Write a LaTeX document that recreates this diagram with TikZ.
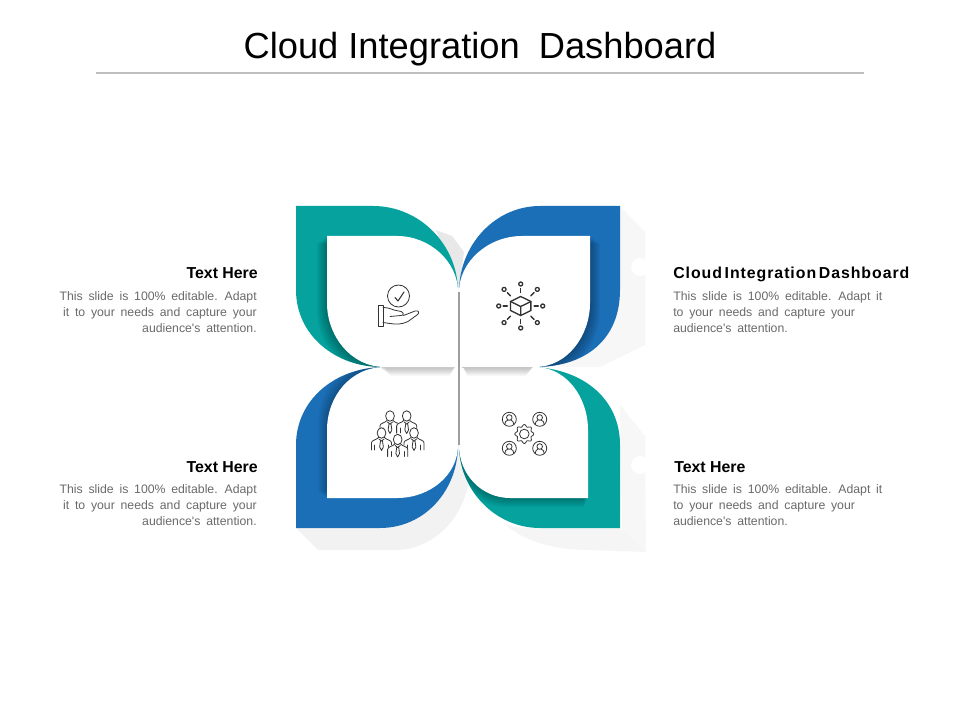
\documentclass[tikz,border=0pt]{standalone}
\usepackage{fontspec}
\setmainfont{Liberation Sans}
\newfontfamily\bodyfont[WordSpace=1.7]{Liberation Sans}
\newfontfamily\wideheadfont[LetterSpace=6,WordSpace=0.5]{Liberation Sans}
\definecolor{tealc}{HTML}{05A29E}
\definecolor{bluec}{HTML}{1B6FB7}
\definecolor{bodyc}{HTML}{6A6A6A}
\definecolor{iconc}{HTML}{333333}
\tikzset{
  titletext/.style={font=\fontsize{27.2pt}{32pt}\selectfont,text=black,inner sep=0pt},
  headtext/.style={font=\fontsize{11.9pt}{14pt}\selectfont\bfseries,text=black,inner sep=0pt},
  wideheadtext/.style={font=\fontsize{11.9pt}{14pt}\wideheadfont\bfseries,text=black,inner sep=0pt},
  bodyleft/.style={font=\fontsize{9.2pt}{12pt}\bodyfont,text=bodyc,inner sep=0pt,align=right,anchor=north east},
  bodyright/.style={font=\fontsize{9.2pt}{12pt}\bodyfont,text=bodyc,inner sep=0pt,align=left,anchor=north west},
  icon/.style={draw=iconc,line width=.6pt,line cap=round,line join=round},
  tlo/.style={insert path={(296,206) -- (373,206) .. controls (420,206) and (458,245) .. (458,292) -- (458,367) -- (382,367) .. controls (335,367) and (296,335) .. (296,290) -- cycle}},
  tlw/.style={insert path={(327,236) -- (397,236) .. controls (430,236) and (458,262) .. (458,292) -- (458,367) -- (385,367) .. controls (350,367) and (327,335) .. (327,303) -- cycle}},
  tro/.style={insert path={(620,206) -- (540,206) .. controls (495,206) and (459,245) .. (459,292) -- (459,367) -- (535,367) .. controls (585,367) and (620,340) .. (620,290) -- cycle}},
  trw/.style={insert path={(590,236) -- (522,236) .. controls (488,236) and (459,262) .. (459,292) -- (459,367) -- (535,367) .. controls (568,367) and (590,335) .. (590,303) -- cycle}},
  blo/.style={insert path={(296,528) -- (380,528) .. controls (425,528) and (458,490) .. (458,445) -- (458,367) -- (385,367) .. controls (335,367) and (296,400) .. (296,445) -- cycle}},
  blw/.style={insert path={(327,498) -- (397,498) .. controls (430,498) and (458,475) .. (458,445) -- (458,367) -- (385,367) .. controls (350,367) and (327,397) .. (327,430) -- cycle}},
  bro/.style={insert path={(620,528) -- (540,528) .. controls (495,528) and (459,490) .. (459,445) -- (459,367) -- (535,367) .. controls (585,370) and (620,400) .. (620,445) -- cycle}},
  brw/.style={insert path={(588,498) -- (510,498) .. controls (482,498) and (459,475) .. (459,445) -- (459,367) -- (535,367) .. controls (566,367) and (588,397) .. (588,430) -- cycle}},
}
\newcommand{\personicon}[2]{%
  \begin{scope}[shift={(#1,#2)},xscale=.84]
    \fill[white] (-12,17) -- (-12,9) .. controls (-12,5) and (-6,5) .. (-4,3) -- (4,3) .. controls (6,5) and (12,5) .. (12,9) -- (12,17) -- cycle;
    \draw[icon,fill=white] (0,-1) ellipse (5.2 and 5.2);
    \draw[icon] (-12,16) -- (-12,9) .. controls (-12,6) and (-6,6) .. (-3.5,3.5) (3.5,3.5) .. controls (6,6) and (12,6) .. (12,9) -- (12,16);
    \draw[icon] (-8,11) -- (-8,16) (8,11) -- (8,16);
    \draw[icon] (-3,5) -- (0,7) -- (3,5) (-1.2,7) -- (-2.2,13) -- (0,16.5) -- (2.2,13) -- (1.2,7);
  \end{scope}}
\newcommand{\usericon}[2]{%
  \begin{scope}[shift={(#1,#2)}]
    \draw[icon] (0,0) circle (7);
    \draw[icon] (0,-1.8) circle (2.8);
    \draw[icon] (-4.6,5.2) .. controls (-4.6,2.2) and (-2.8,1.4) .. (-1.6,1) (1.6,1) .. controls (2.8,1.4) and (4.6,2.2) .. (4.6,5.2);
  \end{scope}}
\begin{document}
\begin{tikzpicture}[x=.75pt,y=-.75pt]
\useasboundingbox (0,0) rectangle (960,720);
\fill[white] (0,0) rectangle (960,720);

% title
\node[titletext] (title) at (480,49) {Cloud Integration\hspace{.25em} Dashboard};
\coordinate (ruleL) at (96,73);
\coordinate (ruleR) at (864,73);
\draw[color=black!25,line width=.8pt] (ruleL) -- (ruleR);

% cast shadows
\fill[black!3] (620,206) -- (645,232) -- (645,345) -- (600,367) -- (560,367) -- (620,300) -- cycle;
\fill[white] (640,267) circle (9);
\fill[black!3] (620,405) -- (645,436) -- (646,552) -- (622,530) -- cycle;
\fill[black!4] (505,524) .. controls (515,528) and (530,528) .. (540,528) -- (620,528) -- (646,552) -- (590,550) .. controls (555,550) and (525,542) .. cycle;
\fill[white] (640,465) circle (9);
\fill[black!5] (296,528) -- (318,550) -- (395,550) .. controls (435,550) and (468,515) .. (470,470) -- (458,445) -- cycle;
\fill[black!9] (436,230) -- (452,236) -- (464,252) -- (459,290) -- cycle;

% coloured bands
\fill[bluec,blo];
\fill[tealc,bro];
\fill[bluec,tro];
\fill[tealc,tlo];

% inner shadows on the bands
\begin{scope}
  \clip[blo];
  \foreach \k in {1,...,9} {\fill[black,opacity=.028,shift={(-\k,-.7*\k)},blw];}
\end{scope}
\begin{scope}
  \clip[bro];
  \foreach \k in {1,...,9} {\fill[black,opacity=.03,shift={(-.5*\k,\k)},brw];}
\end{scope}
\begin{scope}
  \clip[tro];
  \foreach \k in {1,...,10} {\fill[black,opacity=.03,shift={(\k,.8*\k)},trw];}
\end{scope}
\begin{scope}
  \clip[tlo];
  \foreach \k in {1,...,10} {\fill[black,opacity=.03,shift={(-\k,.8*\k)},tlw];}
\end{scope}

% white leaves
\fill[white,blw];
\fill[white,brw];

% soft shade that the upper leaves throw on the lower ones
\foreach \k in {1,...,9} {
  \fill[black,opacity=.028] (384-.6*\k,367) -- (386+.6*\k,367+\k) -- (453-.4*\k,367+\k) -- (455,367) -- cycle;
  \fill[black,opacity=.028] (463,367) -- (464+.4*\k,367+\k) -- (531-.6*\k,367+\k) -- (533,367) -- cycle;
}
\fill[white,trw];
\fill[white,tlw];

% centre seams
\coordinate (seamT) at (459,292);
\coordinate (seamB) at (459,445);
\draw[color=black!38,line width=.8pt] (seamT) -- (seamB);
\coordinate (seamL) at (462,367.2);
\coordinate (seamR) at (530,367.2);
\draw[color=black!22,line width=.6pt] (seamL) -- (seamR);

% icon: hand with tick
\draw[icon] (398.5,296) circle (11);
\draw[icon,line width=.8pt] (395,297.5) -- (398,301) -- (404,292);
\draw[icon] (378,305) rectangle (383,326);
\draw[icon] (383,307.5) .. controls (388,307.5) and (391,309) .. (394,310) -- (401,311.5) .. controls (404,312.5) and (404,315.5) .. (401,315.5) -- (390,316.5);
\draw[icon] (403.5,315.5) -- (415,311) .. controls (419,310) and (420,313) .. (417,315) -- (408,321.5) .. controls (402,324.5) and (396,324.5) .. (390,323.5) -- (383,322.5);

% icon: cube with spokes
\begin{scope}[shift={(520.7,306)}]
  \draw[icon,line width=1pt] (0,-9.5) -- (10.2,-4.5) -- (10.2,4.5) -- (0,9.5) -- (-10.2,4.5) -- (-10.2,-4.5) -- cycle;
  \draw[icon,line width=1pt] (-10.2,-4.5) -- (0,.5) -- (10.2,-4.5) (0,.5) -- (0,9.5);
  \foreach \a in {0,90,180,270} {
    \draw[icon,line width=1.1pt] (\a:13.5) -- (\a:17.5);
    \draw[icon,line width=1pt] (\a:22) circle (2);
  }
  \foreach \a in {45,135,225,315} {
    \draw[icon,line width=1.1pt] (\a:14.5) -- (\a:19);
    \draw[icon,line width=1pt] (\a:23.5) circle (2);
  }
\end{scope}

% icon: team
\personicon{390}{417}
\personicon{406.7}{417}
\personicon{381.5}{434}
\personicon{414}{434}
\personicon{397.7}{440.5}

% icon: users round a gear
\usericon{509.3}{419.3}
\usericon{539.7}{419.3}
\usericon{509.3}{448.3}
\usericon{539.7}{448.3}
\begin{scope}[shift={(524.3,434)}]
  \draw[icon] plot[domain=0:360,samples=65,smooth] (\x:{8.4+1.1*cos(8*\x)}) -- cycle;
  \draw[icon] (0,0) circle (4.8);
\end{scope}

% captions
\node[headtext,anchor=base east] (hTL) at (258,279) {Text Here};
\node[bodyleft] (bTL) at (257,291) {This slide is 100\% editable. Adapt\\it to your needs and capture your\\audience's attention.};
\node[headtext,anchor=base east] (hBL) at (258,472) {Text Here};
\node[bodyleft] (bBL) at (257,484) {This slide is 100\% editable. Adapt\\it to your needs and capture your\\audience's attention.};
\node[wideheadtext,anchor=base west] (hTR) at (673,279) {Cloud Integration Dashboard};
\node[bodyright] (bTR) at (673,291) {This slide is 100\% editable. Adapt it\\to your needs and capture your\\audience's attention.};
\node[headtext,anchor=base west] (hBR) at (674,472) {Text Here};
\node[bodyright] (bBR) at (673,484) {This slide is 100\% editable. Adapt it\\to your needs and capture your\\audience's attention.};
\end{tikzpicture}
\end{document}
